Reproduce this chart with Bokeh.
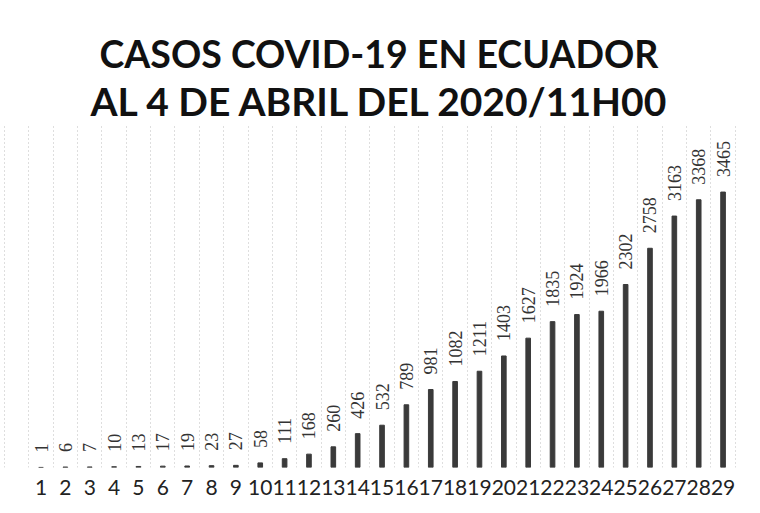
import math
from bokeh.plotting import figure
from bokeh.models import Range1d, FixedTicker, Title, ColumnDataSource
from bokeh.embed import file_html
from bokeh.resources import INLINE
from bokeh.core.properties import value

days = list(range(1, 30))
cases = [1, 6, 7, 10, 13, 17, 19, 23, 27, 58, 111, 168, 260, 426, 532,
         789, 981, 1082, 1211, 1403, 1627, 1835, 1924, 1966, 2302, 2758,
         3163, 3368, 3465]
title_line1 = "CASOS COVID-19 EN ECUADOR"
title_line2 = "AL 4 DE ABRIL DEL 2020/11H00"

src = ColumnDataSource(dict(x=days, y=cases, label=[str(c) for c in cases]))

p = figure(width=744, height=497, output_backend="svg", toolbar_location=None,
           title=None, x_range=Range1d(-0.663, 29.88), y_range=Range1d(0, 4315),
           y_axis_location=None, min_border_left=0, min_border_right=0,
           min_border_top=124, min_border_bottom=0)
p.outline_line_color = None

p.vbar(x="x", top="y", bottom=0, width=0.19, source=src,
       fill_color="#3a3a3a", line_color="#3a3a3a")
p.text(x="x", y="y", text="label", angle=math.pi / 2, text_align="left",
       text_baseline="middle", y_offset=-15,
       text_font=value("Liberation Serif"), text_font_size="18px",
       text_color="#333333", source=src)

p.xaxis.ticker = FixedTicker(ticks=days)
p.xaxis.axis_line_color = None
p.xaxis.major_tick_line_color = None
p.xaxis.minor_tick_line_color = None
p.xaxis.major_tick_out = 0
p.xaxis.major_tick_in = 0
p.xaxis.major_label_standoff = 12
p.xaxis.major_label_text_font = "Lato"
p.xaxis.major_label_text_font_size = "21px"
p.xaxis.major_label_text_color = "#222222"

p.xgrid.ticker = FixedTicker(ticks=[d - 0.5 for d in range(0, 31)])
p.xgrid.grid_line_color = "#bdbdbd"
p.xgrid.grid_line_dash = "1 3"
p.ygrid.visible = False

t2 = Title(text=title_line2, align="left", text_font="Lato",
           text_font_size="39px", text_font_style="bold", text_color="#111111",
           offset=90, standoff=2)
t1 = Title(text=title_line1, align="left", text_font="Lato",
           text_font_size="37.5px", text_font_style="bold", text_color="#111111",
           offset=99, standoff=-3)
p.add_layout(t2, "above")
p.add_layout(t1, "above")

open("out.html", "w").write(file_html(p, INLINE))
